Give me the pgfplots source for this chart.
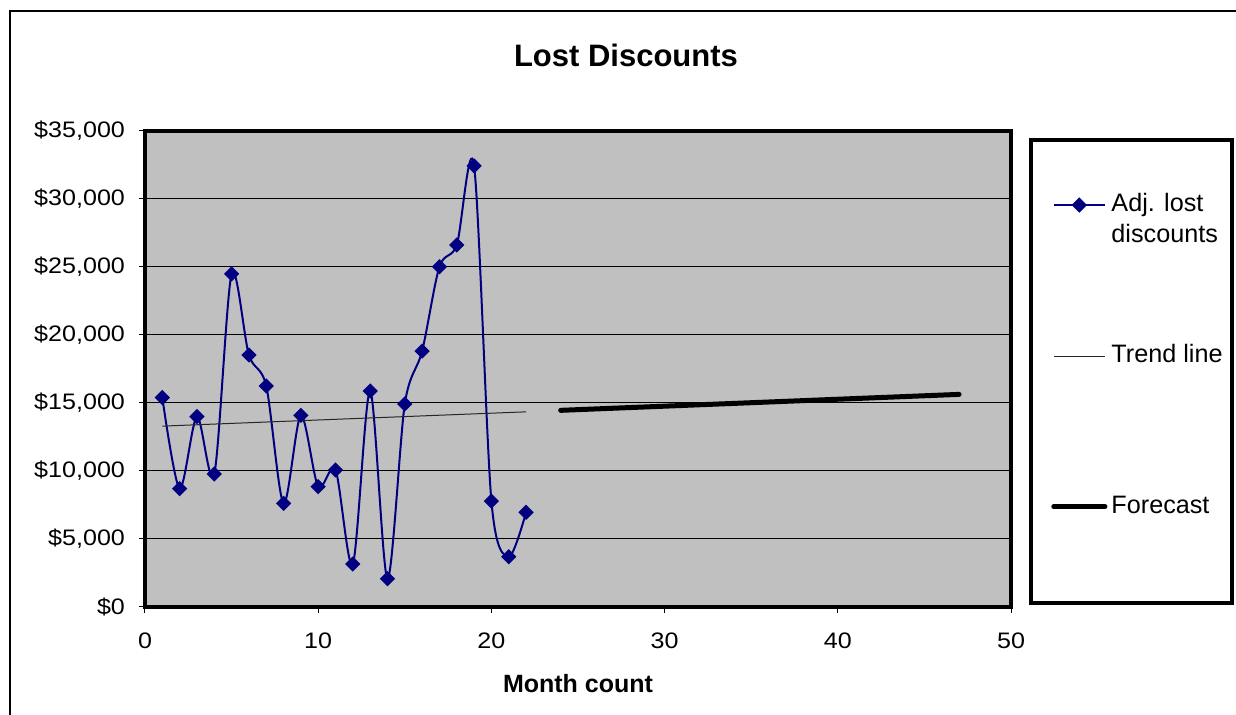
\documentclass[border=0pt]{standalone}
\usepackage{fontspec}
\setmainfont{Liberation Sans}
\newfontfamily\tickfont{Liberation Sans}[FakeStretch=1.12]
\usepackage{pgfplots}
\pgfplotsset{compat=1.18}
\definecolor{plotgray}{HTML}{C0C0C0}
\definecolor{navyblue}{HTML}{000080}

\begin{document}
\begin{tikzpicture}
\useasboundingbox (0,0) rectangle (618pt,357.5pt);
\draw[line width=0.6pt] (5pt,-10pt) rectangle (630pt,352pt);
\node[font=\bfseries\fontsize{15.5}{18}\selectfont] at (313pt,330pt) {Lost Discounts};
\begin{axis}[
  at={(72.5pt,54pt)}, anchor=south west,
  scale only axis, width=433pt, height=238pt,
  xmin=0, xmax=50, ymin=0, ymax=35000,
  scaled y ticks=false,
  axis background/.style={fill=plotgray},
  axis line style={line width=2pt},
  xtick={0,10,20,30,40,50},
  xticklabels={0,10,20,30,40,50},
  ytick={0,5000,10000,15000,20000,25000,30000,35000},
  yticklabels={\$0,{\$5,000},{\$10,000},{\$15,000},{\$20,000},{\$25,000},{\$30,000},{\$35,000}},
  ymajorgrids, grid style={black, line width=0.5pt},
  tick align=outside, tick pos=left, major tick length=3pt,
  tick style={black, line width=0.5pt},
  ticklabel style={font=\tickfont\fontsize{11.2}{13}\selectfont},
  xticklabel style={yshift=-6.5pt},
  yticklabel style={xshift=-3.5pt},
  xlabel={Month count},
  xlabel style={font=\bfseries\fontsize{12.5}{14}\selectfont, yshift=-6pt},
  legend style={at={(1.046,0.884)}, anchor=north west, draw=none, fill=none,
    font=\fontsize{12.6}{15}\selectfont, row sep=61pt, inner sep=0pt,
    cells={anchor=base west}},
  legend image code/.code={\draw[mark repeat=2,mark phase=2,#1] plot coordinates {(0cm,0.33em)(0.45cm,0.33em)(0.9cm,0.33em)};},
]
\addplot[navyblue, line width=1pt, smooth, mark=square*, mark size=2.2pt, mark options={fill=navyblue, solid, rotate=45}] coordinates {
(1,15400) (2,8700) (3,14000) (4,9780) (5,24490) (6,18530) (7,16250) (8,7620)
(9,14090) (10,8850) (11,10070) (12,3160) (13,15880) (14,2080) (15,14930)
(16,18820) (17,25020) (18,26620) (19,32430) (20,7790) (21,3700) (22,6960)
};
\addlegendentry{\raisebox{0pt}[\height][0pt]{\begin{tabular}[t]{@{}l@{}}Adj. lost\\[0.5pt]discounts\end{tabular}}}
\addplot[black!85, line width=0.5pt] coordinates {
(1,13300) (2,13350) (3,13400) (4,13450) (5,13500) (6,13550) (7,13600) (8,13650)
(9,13700) (10,13750) (11,13800) (12,13850) (13,13900) (14,13950) (15,14000)
(16,14050) (17,14100) (18,14150) (19,14200) (20,14250) (21,14300) (22,14350)
};
\addlegendentry{Trend line}
\addplot[black, line width=2.5pt, line cap=round, line join=round] coordinates {
(24,14460) (25,14511) (26,14562) (27,14613) (28,14664) (29,14715) (30,14766)
(31,14817) (32,14868) (33,14919) (34,14970) (35,15021) (36,15072) (37,15123)
(38,15174) (39,15225) (40,15276) (41,15327) (42,15378) (43,15429) (44,15480)
(45,15531) (46,15582) (47,15633)
};
\addlegendentry{Forecast}
\end{axis}
\draw[line width=2pt] (515.5pt,56pt) rectangle (616pt,287.5pt);
\end{tikzpicture}
\end{document}
